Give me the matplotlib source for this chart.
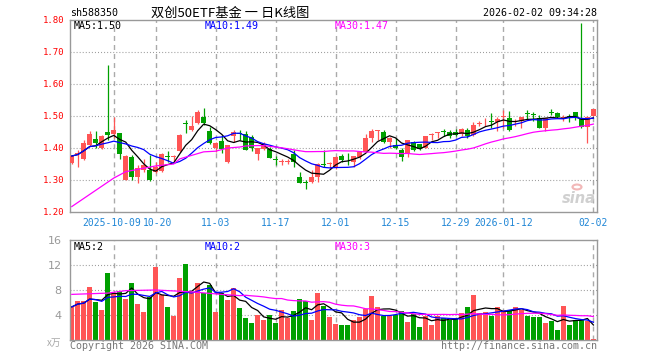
import numpy as np
import pandas as pd
import matplotlib
matplotlib.use('Agg')
import matplotlib.pyplot as plt
from matplotlib.transforms import ScaledTranslation

plt.rcParams['lines.scale_dashes'] = False

# daily bars 2025-09-22 .. 2026-02-02 (88 trading days)
opens = [1.354, 1.382, 1.366, 1.409, 1.429, 1.399, 1.450, 1.444, 1.446, 1.300,
         1.373, 1.310, 1.331, 1.331, 1.326, 1.328, 1.375, 1.372, 1.390, 1.478,
         1.455, 1.477, 1.498, 1.453, 1.399, 1.422, 1.355, 1.438, 1.445, 1.443,
         1.435, 1.380, 1.397, 1.397, 1.364, 1.356, 1.356, 1.380, 1.310, 1.294,
         1.295, 1.310, 1.350, 1.351, 1.336, 1.375, 1.363, 1.357, 1.373, 1.389,
         1.432, 1.452, 1.451, 1.420, 1.409, 1.394, 1.383, 1.420, 1.411, 1.401,
         1.440, 1.447, 1.452, 1.451, 1.449, 1.443, 1.456, 1.441, 1.476, 1.486,
         1.483, 1.482, 1.498, 1.495, 1.483, 1.484, 1.509, 1.506, 1.493, 1.461,
         1.512, 1.508, 1.493, 1.500, 1.514, 1.494, 1.467, 1.500]
highs = [1.378, 1.394, 1.425, 1.453, 1.453, 1.440, 1.660, 1.498, 1.448, 1.378,
         1.378, 1.347, 1.366, 1.378, 1.357, 1.383, 1.390, 1.378, 1.443, 1.488,
         1.500, 1.519, 1.524, 1.467, 1.420, 1.440, 1.410, 1.456, 1.456, 1.453,
         1.440, 1.400, 1.420, 1.404, 1.375, 1.367, 1.367, 1.394, 1.324, 1.300,
         1.331, 1.352, 1.394, 1.357, 1.375, 1.380, 1.385, 1.376, 1.390, 1.443,
         1.459, 1.456, 1.456, 1.435, 1.430, 1.399, 1.426, 1.422, 1.414, 1.439,
         1.448, 1.451, 1.458, 1.456, 1.458, 1.461, 1.461, 1.482, 1.484, 1.495,
         1.508, 1.498, 1.519, 1.516, 1.490, 1.498, 1.519, 1.514, 1.503, 1.495,
         1.521, 1.511, 1.502, 1.505, 1.514, 1.790, 1.500, 1.523]
lows = [1.350, 1.342, 1.363, 1.407, 1.401, 1.397, 1.425, 1.430, 1.366, 1.300,
        1.300, 1.290, 1.326, 1.298, 1.321, 1.326, 1.357, 1.357, 1.388, 1.446,
        1.453, 1.474, 1.472, 1.411, 1.389, 1.383, 1.352, 1.420, 1.425, 1.393,
        1.390, 1.362, 1.394, 1.368, 1.347, 1.347, 1.350, 1.342, 1.290, 1.272,
        1.290, 1.295, 1.342, 1.334, 1.334, 1.357, 1.347, 1.342, 1.366, 1.387,
        1.420, 1.425, 1.415, 1.401, 1.397, 1.360, 1.373, 1.390, 1.394, 1.399,
        1.425, 1.431, 1.439, 1.430, 1.436, 1.436, 1.431, 1.439, 1.470, 1.470,
        1.461, 1.453, 1.461, 1.453, 1.470, 1.461, 1.491, 1.485, 1.461, 1.453,
        1.503, 1.495, 1.484, 1.482, 1.488, 1.462, 1.415, 1.500]
closes = [1.375, 1.384, 1.415, 1.444, 1.417, 1.438, 1.441, 1.457, 1.381, 1.375,
          1.310, 1.339, 1.347, 1.300, 1.342, 1.380, 1.372, 1.374, 1.440, 1.476,
          1.469, 1.511, 1.477, 1.415, 1.415, 1.396, 1.409, 1.451, 1.443, 1.394,
          1.400, 1.399, 1.411, 1.370, 1.362, 1.358, 1.358, 1.357, 1.290, 1.292,
          1.310, 1.350, 1.348, 1.353, 1.373, 1.362, 1.361, 1.375, 1.386, 1.432,
          1.453, 1.454, 1.420, 1.432, 1.399, 1.373, 1.425, 1.394, 1.397, 1.438,
          1.442, 1.449, 1.450, 1.438, 1.441, 1.458, 1.438, 1.472, 1.478, 1.488,
          1.481, 1.490, 1.501, 1.456, 1.485, 1.498, 1.507, 1.504, 1.464, 1.493,
          1.510, 1.498, 1.497, 1.493, 1.493, 1.466, 1.498, 1.521]
# volume, unit 万
volumes = [5.3, 6.2, 6.2, 8.5, 6.1, 4.8, 10.7, 7.3, 7.9, 6.6,
           9.1, 5.8, 4.5, 6.9, 11.7, 7.2, 5.3, 3.9, 9.9, 12.2,
           7.7, 9.1, 7.5, 8.8, 4.5, 7.6, 6.4, 8.3, 5.1, 3.5,
           2.7, 4.0, 3.2, 4.0, 2.7, 4.8, 3.6, 4.6, 6.6, 6.2,
           3.2, 7.5, 5.5, 3.7, 2.6, 2.4, 2.4, 3.2, 3.7, 5.0,
           7.0, 5.3, 3.8, 3.8, 4.0, 4.6, 2.9, 4.2, 2.1, 3.8,
           2.4, 3.8, 3.5, 3.2, 3.5, 4.3, 5.3, 7.2, 4.3, 4.5,
           3.8, 5.3, 4.8, 4.8, 5.3, 4.8, 3.8, 3.7, 3.7, 2.7,
           3.0, 1.6, 5.4, 2.4, 3.2, 3.2, 3.0, 0.2]

# MA30 before a full 30-day window
ma30_head_idx = [0, 7, 9, 14, 17, 18, 22, 24, 26, 28]
ma30_head_val = [1.217, 1.306, 1.326, 1.344, 1.350, 1.366, 1.388, 1.390, 1.400, 1.403]
vma30_head_idx = [0, 6, 9, 14, 20, 25, 28]
vma30_head_val = [7.3, 7.5, 7.9, 8.0, 7.7, 7.3, 7.1]

tick_idx = [7, 14, 24, 34, 44, 54, 64, 72, 87]
tick_labels = ['2025-10-09', '10-20', '11-03', '11-17', '12-01', '12-15',
               '12-29', '2026-01-12', '02-02']

RED = '#ff5555'
GREEN = '#00a000'
GRID = '#aaaaaa'
FRAME = '#999999'
MONO = 'DejaVu Sans Mono'

o = np.array(opens); h = np.array(highs); l = np.array(lows); c = np.array(closes)
v = np.array(volumes)
x = np.arange(len(c))
up = c >= o
cols = [RED if u else GREEN for u in up]

cs = pd.Series(c)
ma5 = cs.rolling(5, min_periods=1).mean()
ma10 = cs.rolling(10, min_periods=1).mean()
ma30 = cs.rolling(30).mean()
vs = pd.Series(v)
vma5 = vs.rolling(5, min_periods=1).mean()
vma10 = vs.rolling(10, min_periods=1).mean()
vma30 = vs.rolling(30).mean()

W, H = 660, 360
fig = plt.figure(figsize=(6.6, 3.6), dpi=100)
fig.patch.set_facecolor('white')

def px(x0, y0, x1, y1):
    return [x0 / W, 1 - y1 / H, (x1 - x0) / W, (y1 - y0) / H]

ax = fig.add_axes(px(70, 20, 597, 212))
axv = fig.add_axes(px(70, 240, 597, 340))

for a in (ax, axv):
    a.set_xlim(-0.3, 87.6)
    for s in a.spines.values():
        s.set_color(FRAME)
        s.set_linewidth(1)
    for t in tick_idx:
        a.axvline(t, color=GRID, lw=1, dashes=(3.6, 2.9), zorder=0)

# price panel
for yv in [1.3, 1.4, 1.5, 1.6, 1.7]:
    ax.axhline(yv, color=FRAME, lw=0.8, dashes=(0.7, 1.5), zorder=0)
ax.vlines(x, l, h, colors=cols, lw=0.9, zorder=2)
body_lo = np.minimum(o, c)
body_h = np.maximum(np.abs(c - o), 0.0028)
ax.bar(x, body_h, bottom=body_lo, width=0.8, color=cols, lw=0, zorder=3)
ax.plot(x, ma5, color='black', lw=0.9, zorder=4)
ax.plot(x, ma10, color='#0000ff', lw=0.9, zorder=4)
ax.plot(ma30_head_idx + list(x[29:]), ma30_head_val + list(ma30[29:]),
        color='#ff00ff', lw=0.9, zorder=4)
ax.set_ylim(1.2, 1.8)
ax.set_yticks([1.2, 1.3, 1.4, 1.5, 1.6, 1.7, 1.8])
ax.set_yticklabels(['%.2f' % t for t in ax.get_yticks()], color='#ff0000',
                   family=MONO, fontsize=6.5)
ax.set_xticks(tick_idx)
ax.set_xticklabels(tick_labels, color='#1f86d6', family=MONO, fontsize=7)
ax.tick_params(length=0, pad=4)
# first two date labels sit edge to edge, nudge them apart
xl = ax.get_xticklabels()
xl[0].set_transform(xl[0].get_transform() + ScaledTranslation(-2.5 / 100, 0, fig.dpi_scale_trans))
xl[1].set_transform(xl[1].get_transform() + ScaledTranslation(1.5 / 100, 0, fig.dpi_scale_trans))

# volume panel
for yv in [4, 8, 12]:
    axv.axhline(yv, color=FRAME, lw=0.8, dashes=(0.7, 1.5), zorder=0)
axv.bar(x, v, width=0.8, color=cols, lw=0, zorder=2)
axv.plot(x, vma5, color='black', lw=0.9, zorder=4)
axv.plot(x, vma10, color='#0000ff', lw=0.9, zorder=4)
axv.plot(vma30_head_idx + list(x[29:]), vma30_head_val + list(vma30[29:]),
         color='#ff00ff', lw=0.9, zorder=4)
axv.set_ylim(0, 16)
axv.set_yticks([4, 8, 12, 16])
axv.set_yticklabels(['4', '8', '12', '16'], color='#999999', fontsize=8)
axv.set_xticks([])
axv.tick_params(length=0, pad=6)

def ftext(xp, yp, s, **kw):
    fig.text(xp / W, 1 - yp / H, s, va='center', **kw)

ftext(70, 13, 'sh588350', family=MONO, fontsize=7.2, color='black')
ftext(230, 13, '双创50ETF基金 一 日K线图', ha='center',
      family=['Noto Sans CJK SC', 'DejaVu Sans'], fontsize=9.5, color='black')
ftext(597, 13, '2026-02-02 09:34:28', ha='right', family=MONO, fontsize=7.2, color='black')

ftext(74, 26, 'MA5:1.50', family=MONO, fontsize=7.2, color='black')
ftext(205, 26, 'MA10:1.49', family=MONO, fontsize=7.2, color='#0000ff')
ftext(335, 26, 'MA30:1.47', family=MONO, fontsize=7.2, color='#ff00ff')
ftext(74, 247, 'MA5:2', family=MONO, fontsize=7.2, color='black')
ftext(205, 247, 'MA10:2', family=MONO, fontsize=7.2, color='#0000ff')
ftext(335, 247, 'MA30:3', family=MONO, fontsize=7.2, color='#ff00ff')

ftext(47, 343, 'x万', family=['Noto Sans CJK SC', 'DejaVu Sans'], fontsize=7, color='#aaaaaa')
ftext(70, 346, 'Copyright 2026 SINA.COM', family=MONO, fontsize=7.2, color='#777777')
ftext(597, 346, 'http://finance.sina.com.cn', ha='right', family=MONO, fontsize=7.2, color='#777777')

# sina watermark
ftext(579, 198, 'sina', ha='center', fontsize=10.5, fontweight='bold', style='italic',
      color='#d0d0d0')
fig.patches.append(plt.Circle((577 / W, 1 - 187 / H), 4.5 / W, transform=fig.transFigure,
                              fill=False, color='#f2b8b8', lw=1.5))

fig.savefig('out.png', dpi=100)
